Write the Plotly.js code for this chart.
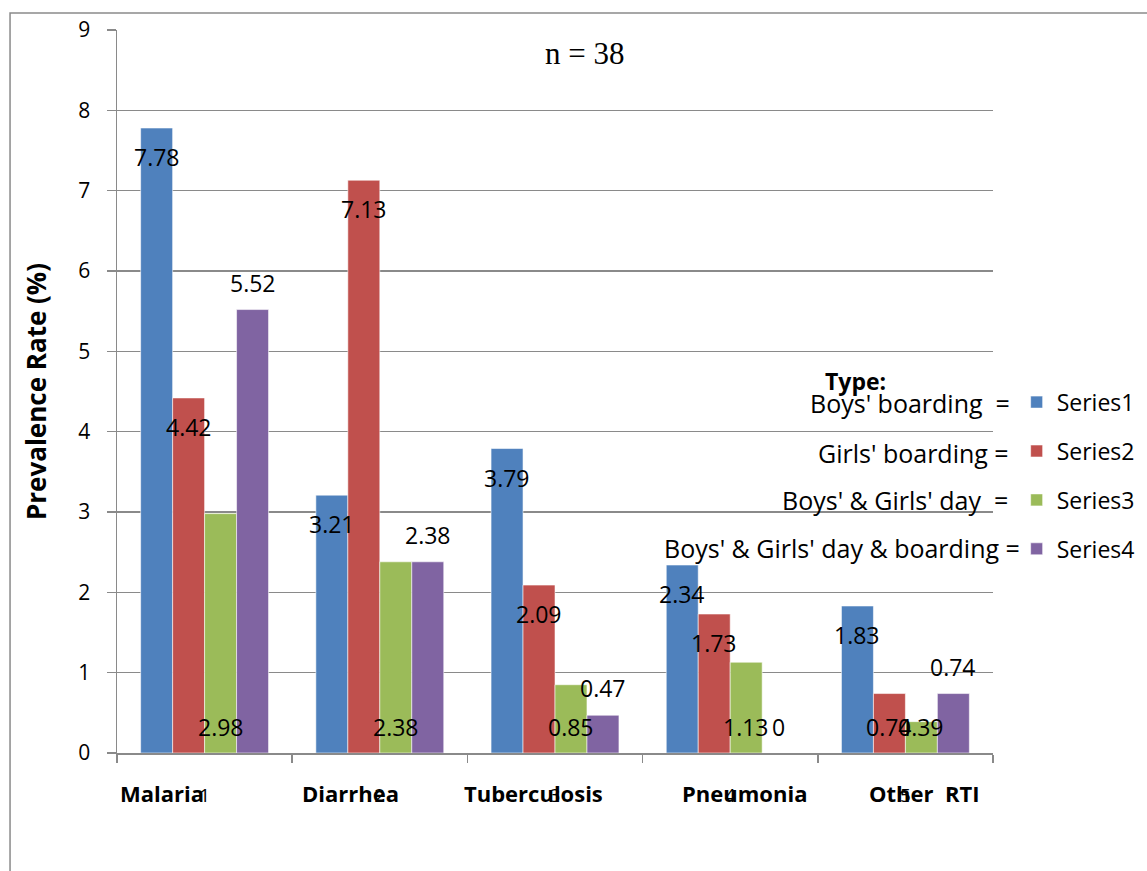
<!DOCTYPE html>
<html>
<head>
<meta charset="utf-8">
<script src="https://cdn.plot.ly/plotly-3.0.1.min.js"></script>
<style>html,body{margin:0;padding:0;background:#fff;}#chart{width:1147px;height:871px;}</style>
</head>
<body>
<div id="chart"></div>
<script>
// ---- data ----
const categoryIndex = [1, 2, 3, 4, 5];
const tickLabels = ['1', '2', '3', '4', '5'];
const categoryNames = ['Malaria', 'Diarrhea', 'Tuberculosis', 'Pneumonia', 'Other  RTI'];
const seriesNames = ['Series1', 'Series2', 'Series3', 'Series4'];
const typeNames = ["Boys' boarding  =", "Girls' boarding =", "Boys' & Girls' day  =", "Boys' & Girls' day & boarding ="];
const series1 = [7.78, 3.21, 3.79, 2.34, 1.83];
const series2 = [4.42, 7.13, 2.09, 1.73, 0.74];
const series3 = [2.98, 2.38, 0.85, 1.13, 0.39];
const series4 = [5.52, 2.38, 0.47, 0, 0.74];

// ---- style ----
const colors = ['#4F81BD', '#C0504D', '#9BBB59', '#8064A2'];
// data-label placement (style): 'top' = inside near top, 'base' = inside near base, 'above' = above bar
const labelPlace = [
  ['top', 'top', 'top', 'top', 'top'],
  ['top', 'top', 'top', 'top', 'base'],
  ['base', 'base', 'base', 'base', 'base'],
  ['above', 'above', 'above', 'base', 'above']
];
const catNameOffset = [-0.494, -0.455, -0.531, -0.287, -0.219];
const typeX = [1.0217, 1.0205, 1.0194, 1.0331];
const typeY = [0.484, 0.415, 0.350, 0.284];
const bargap = 0.27;
const FONT = 'Open Sans, Noto Sans, sans-serif';
const GRID = '#8a8a8a';

const allSeries = [series1, series2, series3, series4];
const traces = allSeries.map((vals, k) => ({
  type: 'bar',
  x: categoryIndex,
  y: vals,
  name: seriesNames[k],
  legendgroup: 'g' + k,
  marker: {color: colors[k], line: {color: 'rgba(255,255,255,0.7)', width: 0.8}},
  hoverinfo: 'x+y+name'
}));

const annotations = [];
const w = (1 - bargap) / allSeries.length;
allSeries.forEach((vals, k) => {
  vals.forEach((v, i) => {
    const place = labelPlace[k][i];
    let y = v, shift = -29;
    if (place === 'base') { y = 0; shift = 26; }
    else if (place === 'above') { shift = 27; }
    annotations.push({
      xref: 'x', yref: 'y', x: categoryIndex[i] + (k - 1.5) * w, y: y,
      yshift: shift, text: String(v), showarrow: false,
      xanchor: 'center', yanchor: 'middle',
      font: {family: FONT, size: 23, color: '#000'}
    });
  });
});
categoryNames.forEach((name, i) => {
  annotations.push({
    xref: 'x', yref: 'paper', x: categoryIndex[i] + catNameOffset[i], y: -0.0553,
    text: '<b>' + name + '</b>', showarrow: false, xanchor: 'left', yanchor: 'middle',
    font: {family: FONT, size: 22, color: '#000'}
  });
});
typeNames.forEach((t, i) => {
  annotations.push({
    xref: 'paper', yref: 'paper', x: typeX[i], y: typeY[i], text: t, showarrow: false,
    xanchor: 'right', yanchor: 'middle', font: {family: FONT, size: 25, color: '#000'}
  });
});
annotations.push({
  xref: 'paper', yref: 'paper', x: 0.8436, y: 0.5145, text: '<b>Type:</b>', showarrow: false,
  xanchor: 'center', yanchor: 'middle', font: {family: FONT, size: 23, color: '#000'}
});
annotations.push({
  xref: 'paper', yref: 'paper', x: 0.534, y: 0.968, text: 'n = 38', showarrow: false,
  xanchor: 'center', yanchor: 'middle', font: {family: 'Liberation Serif, serif', size: 31, color: '#000'}
});

const layout = {
  width: 1147, height: 871,
  margin: {l: 117, r: 154, t: 30, b: 118, autoexpand: false},
  paper_bgcolor: '#fff', plot_bgcolor: '#fff',
  barmode: 'group', bargap: bargap, bargroupgap: 0,
  showlegend: true,
  legend: {
    x: 1.027, y: 0.515, xanchor: 'left', yanchor: 'top',
    font: {family: FONT, size: 23, color: '#000'},
    tracegroupgap: 16, traceorder: 'grouped', bgcolor: 'rgba(0,0,0,0)'
  },
  xaxis: {
    range: [0.5, 5.5], tickmode: 'array', tickvals: categoryIndex, ticktext: tickLabels,
    ticks: '', ticklabelstandoff: 25, showgrid: false, zeroline: false,
    showline: true, linecolor: GRID, linewidth: 1.5,
    tickfont: {family: FONT, size: 19, color: '#000'},
    minor: {tickmode: 'linear', tick0: 0.5, dtick: 1, ticks: 'outside', ticklen: 8, tickwidth: 1.5, tickcolor: GRID, showgrid: false}
  },
  yaxis: {
    range: [0, 9], dtick: 1, tick0: 0, ticks: 'outside', ticklen: 9, tickwidth: 1.5, tickcolor: GRID,
    showgrid: true, gridcolor: GRID, gridwidth: 1.5, zeroline: false,
    showline: true, linecolor: GRID, linewidth: 1.5, ticklabelstandoff: 12,
    tickfont: {family: FONT, size: 21, color: '#000'},
    title: {text: '<b>Prevalence Rate (%)</b>', standoff: 24, font: {family: FONT, size: 26, color: '#000'}}
  },
  annotations: annotations,
  shapes: [{
    type: 'rect', xref: 'paper', yref: 'paper', x0: -0.1221, y0: 1.0235, x1: 1.4, y1: -0.4,
    line: {color: GRID, width: 1.5}, fillcolor: 'rgba(0,0,0,0)', layer: 'below'
  }]
};

Plotly.newPlot('chart', traces, layout, {displayModeBar: false, staticPlot: true});
</script>
</body>
</html>
